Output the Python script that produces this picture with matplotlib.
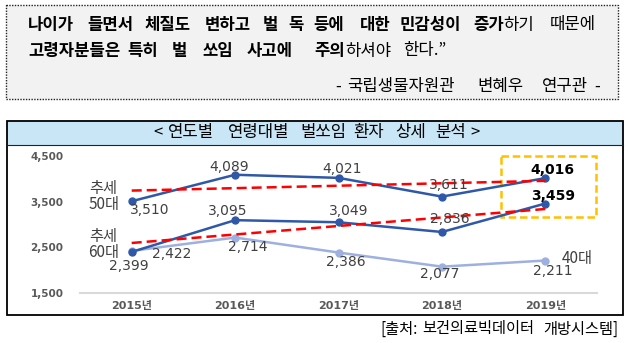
import numpy as np
import matplotlib
matplotlib.use('Agg')
import matplotlib.pyplot as plt
from matplotlib.patches import Rectangle

KR = ['Noto Sans CJK KR', 'DejaVu Sans']
NUM = ['DejaVu Sans', 'Noto Sans CJK KR']
plt.rcParams['font.family'] = KR

# data
years = ['2015년', '2016년', '2017년', '2018년', '2019년']
age_50 = [3510, 4089, 4021, 3611, 4016]
age_60 = [2399, 3095, 3049, 2836, 3459]
age_40 = [2422, 2714, 2386, 2077, 2211]
y_ticks = [1500, 2500, 3500, 4500]

# quote text: bold part, then normal part
quote_1 = ('나이가 들면서 체질도 변하고 벌 독 등에 대한 민감성이 증가', '하기 때문에')
quote_2 = ('고령자분들은 특히 벌 쏘임 사고에 주의', '하셔야 한다.”')
quote_by = '- 국립생물자원관 변혜우 연구관 -'
title = '< 연도별 연령대별 벌쏘임 환자 상세 분석 >'
source = '[출처: 보건의료빅데이터 개방시스템]'

W, H = 628, 343
fig = plt.figure(figsize=(W / 100, H / 100), dpi=100)

# background axes in pixel coordinates
bg = fig.add_axes([0, 0, 1, 1], zorder=0)
bg.set_xlim(0, W)
bg.set_ylim(H, 0)
bg.axis('off')


def put_words(y, text, starts, fs, weight='normal'):
    # words are spread out wide in the original, so place them one by one
    for w, x0 in zip(text.split(' '), starts):
        bg.text(x0, y, w, fontsize=fs, weight=weight, va='center', ha='left')


def quote_line(y, parts, starts, fs):
    bw = parts[0].split(' ')
    rw = parts[1].split(' ')
    words = [(w, '') for w in bw[:-1]] + [(bw[-1], rw[0])] + [('', w) for w in rw[1:]]
    for (b, n), x0 in zip(words, starts):
        if b:
            t = bg.text(x0, y, b, fontsize=fs, weight='bold', va='center', ha='left')
            if n:
                bg.annotate(n, xy=(1, 0), xycoords=t, va='bottom', ha='left',
                            fontsize=fs)
        else:
            bg.text(x0, y, n, fontsize=fs, va='center', ha='left')


# quote box
bg.add_patch(Rectangle((6, 5), 612, 94, facecolor='#f2f2f2', edgecolor='#222222',
                       linestyle=(0, (1, 1)), linewidth=1))
quote_line(25, quote_1, [28, 87, 145, 205, 263, 288, 313, 360, 400, 473, 550], 12)
quote_line(51, quote_2, [28, 127, 172, 202, 247, 314, 403], 12)
put_words(86, quote_by, [335, 347, 477, 542, 594], 12)

# chart box
bg.add_patch(Rectangle((7, 121), 616, 24, facecolor='#c9e6f7', edgecolor='none'))
bg.plot([7, 623], [145, 145], color='#222222', linewidth=0.8)
bg.add_patch(Rectangle((7, 121), 616, 194, facecolor='none', edgecolor='black',
                       linewidth=1.3))
put_words(133, title, [153, 168, 228, 300, 353, 395, 435, 470], 12)
put_words(329, source, [380, 422, 543], 11)

# highlight box
bg.add_patch(Rectangle((501, 156), 95, 61, facecolor='none', edgecolor='#ffc000',
                       linestyle=(0, (3, 1.5)), linewidth=1.8, zorder=5))

# series labels
lab_color = '#404040'
for txt, lx, ly in (('추세', 103, 188), ('50대', 104, 205), ('추세', 103, 237),
                    ('60대', 104, 253), ('40대', 577, 259)):
    bg.text(lx, ly, txt, fontsize=11, color=lab_color, va='center', ha='center')

# plot axes
ax = fig.add_axes([80 / W, 1 - 293 / H, 517 / W, 137 / H], zorder=2)
ax.patch.set_alpha(0)
x = np.arange(len(years))
ax.set_xlim(-0.5, len(years) - 0.5)
ax.set_ylim(1500, 4500)

dark = '#2f58a8'
light = '#9db0e0'
ax.plot(x, age_40, color=light, linewidth=1.8, marker='o', markersize=5, zorder=3)
ax.plot(x, age_60, color=dark, linewidth=1.8, marker='o', markersize=5, zorder=4)
ax.plot(x, age_50, color=dark, linewidth=1.8, marker='o', markersize=5, zorder=4)

# linear trend lines
for s in (age_50, age_60):
    k, b = np.polyfit(x, s, 1)
    ax.plot(x[[0, -1]], k * x[[0, -1]] + b, color='#ff0000', linewidth=1.8,
            linestyle=(0, (4, 2)), zorder=5)

# value labels (offsets in pixels)
off_50 = [(18, -9), (-6, 8), (4, 9), (7, 12), (7, 8)]
off_60 = [(-3, -14), (-7, 9.5), (10, 11), (8, 13), (8, 8)]
off_40 = [(40, -3), (13, -9), (7, -9), (-2, -7), (8, -10)]
for s, offs in ((age_50, off_50), (age_60, off_60), (age_40, off_40)):
    for i, (v, o) in enumerate(zip(s, offs)):
        last = i == len(s) - 1 and s is not age_40
        ax.annotate(f'{v:,}', xy=(i, v), xytext=o, textcoords='offset pixels',
                    ha='center', va='center', fontsize=10, family=NUM,
                    color='black' if last else lab_color,
                    weight='bold' if last else 'normal', zorder=6)

ax.set_xticks(x, years)
ax.set_yticks(y_ticks, [f'{v:,}' for v in y_ticks])
for sp in ('top', 'right', 'left'):
    ax.spines[sp].set_visible(False)
ax.spines['bottom'].set_color('#d9d9d9')
ax.spines['bottom'].set_linewidth(1.5)
ax.tick_params(axis='both', length=0, labelcolor='#595959')
ax.tick_params(axis='y', pad=12, labelsize=7.5)
ax.tick_params(axis='x', pad=6, labelsize=8)
for lab in ax.get_xticklabels() + ax.get_yticklabels():
    lab.set_fontweight('bold')
    lab.set_family(NUM)

fig.savefig('out.png', dpi=100)
